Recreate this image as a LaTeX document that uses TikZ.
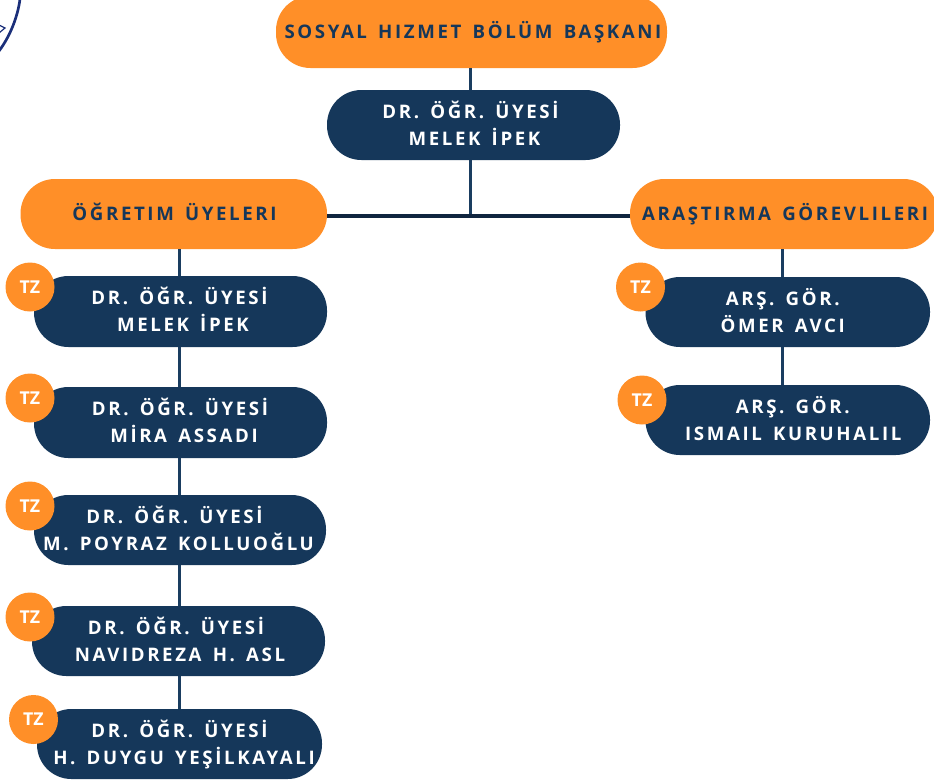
\documentclass[tikz,border=0pt]{standalone}
\usepackage{fontspec}
\setmainfont{Open Sans}
\newfontfamily\lblfont[LetterSpace=14,WordSpace=1.5,BoldFont={Open Sans Bold}]{Open Sans}
\newfontfamily\tzfont[BoldFont={Open Sans Bold}]{Open Sans}
\definecolor{navy}{HTML}{15375A}
\definecolor{linecol}{HTML}{1A3D60}
\definecolor{linedark}{HTML}{10253F}
\definecolor{orng}{HTML}{FF8F28}
\definecolor{logoblue}{HTML}{1B2F7A}
% one line of text displaced by #1 px from the centre of its box
\newdimen\offsamount
\newcommand{\offs}[2]{\offsamount=\dimexpr#1pt*3/2\relax
  \ifdim\offsamount<0pt #2\hspace*{-\offsamount}\else\hspace*{\offsamount}#2\fi}
% two lines with a fixed height above the first
\newcommand{\twolines}[4]{\rule{0pt}{14pt}\offs{#1}{#2}\\\offs{#3}{#4}}
\tikzset{
  px/.style={x=0.75pt,y=-0.75pt},
  pillbase/.style={rectangle,rounded corners=25.8pt,inner sep=0pt,align=center,
    font=\lblfont\bfseries\fontsize{14pt}{20.25pt}\selectfont,
    execute at end node={\rule[-3.55pt]{0pt}{3.55pt}}},
  orangebox/.style={pillbase,fill=orng,text=navy},
  navybox/.style={pillbase,fill=navy,text=white},
  tzbadge/.style={circle,fill=orng,text=white,minimum size=36.75pt,inner sep=0pt,
    font=\tzfont\bfseries\fontsize{13.3pt}{15pt}\selectfont},
  conn/.style={draw=linecol,line width=2.6pt},
  connmain/.style={draw=linedark,line width=3pt}
}
\newcommand{\pill}[7]{% name, style, x1, y1, x2, y2, text
  \node[#2,minimum width={(#5-#3)*0.75pt},minimum height={(#6-#4)*0.75pt}] (#1) at ({(#3+#5)/2},{(#4+#6)/2}) {#7};}
\begin{document}
\begin{tikzpicture}[px]
\useasboundingbox (0,0) rectangle (934,782);
\begin{scope}
\clip (0,0) rectangle (934,782);
% logo fragment
\draw[logoblue,line width=2pt] (20,-1) .. controls (18,15) and (11,35) .. (-1,51);
\draw[logoblue,line width=0.9pt] (-1,25) -- (5,28) -- (-1,33);
% connector coordinates
\coordinate (jv) at (470.7,218);
\coordinate (jh) at (470.7,216);
\coordinate (lv) at (179.5,0);
\coordinate (rv) at (782.5,0);
% nodes
\pill{top}{orangebox}{276}{-4}{667}{68}{\offs{1.5}{SOSYAL HIZMET BÖLÜM BAŞKANI}}
\pill{head}{navybox}{327}{90}{620}{160}{\twolines{-3}{DR. ÖĞR. ÜYESİ}{1}{MELEK İPEK}}
\pill{hl}{orangebox}{20.5}{179}{327}{249}{\offs{0.75}{ÖĞRETIM ÜYELERI}}
\pill{hr}{orangebox}{630}{179}{938}{249}{\offs{1}{ARAŞTIRMA GÖREVLILERI}}
\pill{l1}{navybox}{34}{276}{327}{347}{\twolines{-1}{DR. ÖĞR. ÜYESİ}{2.5}{MELEK İPEK}}
\pill{l2}{navybox}{34}{387}{327}{458}{\twolines{-0.5}{DR. ÖĞR. ÜYESİ}{3.5}{MİRA ASSADI}}
\pill{l3}{navybox}{34}{495}{326}{565}{\twolines{-5.5}{DR. ÖĞR. ÜYESİ}{-1.5}{M. POYRAZ KOLLUOĞLU}}
\pill{l4}{navybox}{32}{606}{325}{676}{\twolines{-2.5}{DR. ÖĞR. ÜYESİ}{1.5}{NAVIDREZA H. ASL}}
\pill{l5}{navybox}{37}{709}{322}{779}{\twolines{0}{DR. ÖĞR. ÜYESİ}{4.5}{H. DUYGU YEŞİLKAYALI}}
\pill{r1}{navybox}{645.5}{277}{930}{347}{\twolines{-5}{ARŞ. GÖR.}{-5}{ÖMER AVCI}}
\pill{r2}{navybox}{645.5}{385}{930}{455}{\twolines{5}{ARŞ. GÖR.}{5.5}{ISMAIL KURUHALIL}}
% connectors
\draw[conn] (jv |- top.south) -- (jv |- head.north);
\draw[conn] (jv |- head.south) -- (jv);
\draw[connmain] (jh -| hl.east) -- (jh -| hr.west);
\draw[conn] (lv |- hl.south) -- (lv |- l1.north);
\draw[conn] (lv |- l1.south) -- (lv |- l2.north);
\draw[conn] (lv |- l2.south) -- (lv |- l3.north);
\draw[conn] (lv |- l3.south) -- (lv |- l4.north);
\draw[conn] (lv |- l4.south) -- (lv |- l5.north);
\draw[conn] (rv |- hr.south) -- (rv |- r1.north);
\draw[conn] (rv |- r1.south) -- (rv |- r2.north);
% badges
\node[tzbadge] (b1) at (30,287) {TZ};
\node[tzbadge] (b2) at (30,398) {TZ};
\node[tzbadge] (b3) at (30,506) {TZ};
\node[tzbadge] (b4) at (30,617) {TZ};
\node[tzbadge] (b5) at (33.5,719.5) {TZ};
\node[tzbadge] (b6) at (640.5,287) {TZ};
\node[tzbadge] (b7) at (642,400) {TZ};
\end{scope}
\end{tikzpicture}
\end{document}
